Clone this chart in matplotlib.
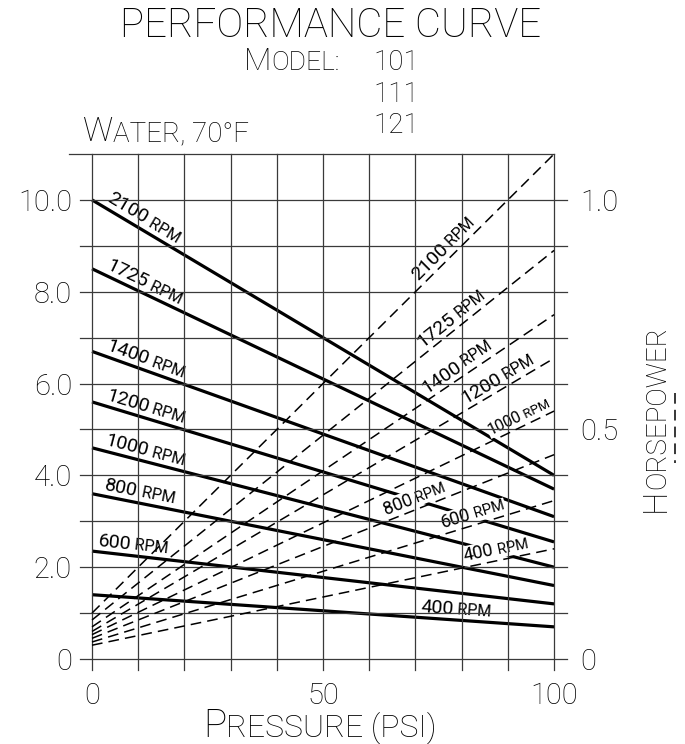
import numpy as np
import matplotlib
matplotlib.use("Agg")
import matplotlib.pyplot as plt
from matplotlib.font_manager import FontProperties
from matplotlib.transforms import offset_copy
from matplotlib.lines import Line2D

# ---------------- data ----------------
rpm_labels = ["2100", "1725", "1400", "1200", "1000", "800", "600", "400"]
pressure_psi = [0, 100]
flow_at_0psi = [10.0, 8.5, 6.7, 5.6, 4.6, 3.6, 2.35, 1.4]
flow_at_100psi = [4.0, 3.7, 3.1, 2.55, 2.0, 1.6, 1.2, 0.7]
hp_at_0psi = [0.100, 0.085, 0.070, 0.060, 0.053, 0.045, 0.037, 0.030]
hp_at_100psi = [1.100, 0.890, 0.750, 0.655, 0.540, 0.445, 0.345, 0.240]

flow_ticks = [0, 2, 4, 6, 8, 10]
flow_tick_labels = ["0", "2.0", "4.0", "6.0", "8.0", "10.0"]
hp_ticks = [0, 0.5, 1.0]
hp_tick_labels = ["0", "0.5", "1.0"]
psi_ticks = [0, 50, 100]
psi_tick_labels = ["0", "50", "100"]

# label placement (x position along each curve where the label starts)
solid_label_x = [2.4, 2.4, 2.4, 2.4, 2.4, 2.4, 1.0, 71.0]
dashed_label_x = [71.5, 72.3, 73.0, 81.4, 86.8, 64.0, 76.4, 81.0]
dashed_label_size = [14, 14, 14, 14, 11.5, 13, 13, 13]

# ---------------- style ----------------
FAM = ["Roboto", "DejaVu Sans"]
W, H = 685, 744

fig = plt.figure(figsize=(W / 100, H / 100), dpi=100)
fig.patch.set_facecolor("white")
renderer = fig.canvas.get_renderer()

ax = fig.add_axes([80 / W, 1 - 670 / H, (567 - 80) / W, (670 - 154) / H])
ax.set_xlim(-2.6, 102.8)
ax.set_ylim(-0.24, 11.0)
ax2 = ax.twinx()
ax2.set_ylim(-0.024, 1.10)
for a in (ax, ax2):
    for sp in a.spines.values():
        sp.set_visible(False)

def fp(size, weight="light"):
    return FontProperties(family=FAM, size=size, weight=weight)

def sc_text(parts, x, y, transform, angle=0.0, ha="left", perp=0.0,
            zorder=6, bbox=None, target=None, weight="light"):
    """Draw text made of (string, size) parts, e.g. small caps."""
    target = target if target is not None else fig
    widths = [renderer.get_text_width_height_descent(s, fp(sz, weight), ismath=False)[0]
              for s, sz in parts]
    total = sum(widths)
    start = {"left": 0.0, "center": -total / 2, "right": -total}[ha]
    th = np.deg2rad(angle)
    c, s_ = np.cos(th), np.sin(th)
    px0, py0 = -s_ * perp, c * perp
    pos = start
    for (txt, sz), w in zip(parts, widths):
        tr = offset_copy(transform, fig=fig, x=px0 + pos * c, y=py0 + pos * s_, units="dots")
        target.text(x, y, txt, transform=tr, rotation=angle, rotation_mode="anchor",
                    ha="left", va="baseline", fontproperties=fp(sz, weight),
                    color="black", zorder=zorder, bbox=bbox, clip_on=False)
        pos += w

# ---------------- grid ----------------
grid_kw = dict(color="#3a3a3a", lw=0.9, zorder=4, transform=ax.transData, clip_on=False)
for gx in range(0, 101, 10):
    ax2.add_line(Line2D([gx, gx], [-0.24, 11.0], **grid_kw))
for gy in range(0, 11):
    ax2.add_line(Line2D([-2.6, 102.8], [gy, gy], **grid_kw))
ax2.add_line(Line2D([-5.0, 100], [11.0, 11.0], **grid_kw))

# ---------------- flow curves (solid) ----------------
for i, r in enumerate(rpm_labels):
    f = [flow_at_0psi[i], flow_at_100psi[i]]
    ax.plot(pressure_psi, f, color="black", lw=2.3, solid_capstyle="butt", zorder=2)

# ---------------- horsepower curves (dashed) ----------------
for i, r in enumerate(rpm_labels):
    h = [hp_at_0psi[i], hp_at_100psi[i]]
    ax2.plot(pressure_psi, h, color="black", lw=1.1, ls=(0, (7, 4)), zorder=5, clip_on=False)

# ---------------- curve labels ----------------
for i, r in enumerate(rpm_labels):
    slope = (flow_at_100psi[i] - flow_at_0psi[i]) / (pressure_psi[1] - pressure_psi[0])
    xl = solid_label_x[i]
    yl = flow_at_0psi[i] + slope * xl
    ang = ax.transData.transform_angles(np.array([np.degrees(np.arctan(slope))]),
                                        np.array([[xl, yl]]))[0]
    sc_text([(r, 14), (" RPM", 11.5)], xl, yl, ax.transData, angle=ang, perp=6,
            target=ax, zorder=3, weight="normal")

for i, r in enumerate(rpm_labels):
    slope = (hp_at_100psi[i] - hp_at_0psi[i]) / (pressure_psi[1] - pressure_psi[0])
    xl = dashed_label_x[i]
    yl = hp_at_0psi[i] + slope * xl
    ang = ax2.transData.transform_angles(np.array([np.degrees(np.arctan(slope))]),
                                         np.array([[xl, yl]]))[0]
    sz = dashed_label_size[i]
    sc_text([(r, sz), (" RPM", sz * 0.82)], xl, yl, ax2.transData, angle=ang, perp=6,
            target=ax2, zorder=3, weight="normal",
            bbox=dict(facecolor="white", edgecolor="none", pad=0.6))

# ---------------- ticks ----------------
ax.set_xticks(psi_ticks)
ax.set_xticklabels(psi_tick_labels)
ax.set_yticks(flow_ticks)
ax.set_yticklabels(flow_tick_labels)
ax2.set_yticks(hp_ticks)
ax2.set_yticklabels(hp_tick_labels)
ax.tick_params(axis="x", length=0, pad=8.6)
ax.tick_params(axis="y", length=0, pad=5.8)
ax2.tick_params(axis="y", length=0, pad=9.4)
for lab in ax.get_xticklabels() + ax.get_yticklabels() + ax2.get_yticklabels():
    lab.set_fontproperties(fp(21))

# ---------------- titles / axis titles ----------------
ft = fig.transFigure
def F(xp, yp):
    return xp / W, 1 - yp / H

sc_text([("PERFORMANCE CURVE", 29)], *F(330.5, 37), ft, ha="center")
sc_text([("M", 23), ("ODEL:", 19)], *F(244, 70), ft)
for txt, yb in [("101", 70), ("111", 102), ("121", 133)]:
    sc_text([(txt, 20)], *F(373, yb), ft)
sc_text([("W", 24), ("ATER, 70°F", 20)], *F(83, 141), ft)
sc_text([("P", 28), ("RESSURE (PSI)", 23)], *F(320, 737), ft, ha="center")
sc_text([("H", 24), ("ORSEPOWER", 20)], *F(665, 512), ft, angle=90)
fig.add_artist(Line2D([675 / W, 675 / W], [1 - 393 / H, 1 - 463 / H], transform=ft,
                      color="black", lw=1.1, ls=(0, (7, 4))))

fig.savefig("out.png", dpi=100, facecolor="white")
